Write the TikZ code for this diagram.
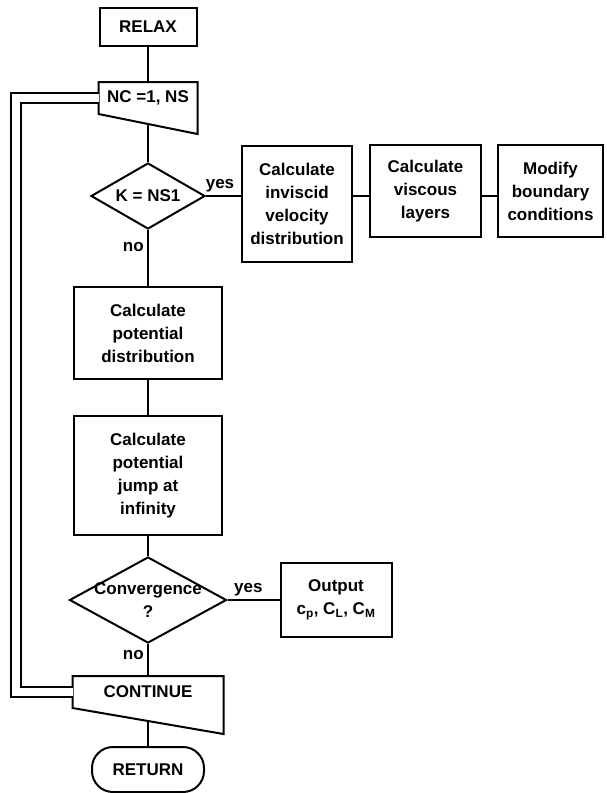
\documentclass[tikz,border=0pt]{standalone}
\usepackage{fontspec}
\setmainfont{Liberation Sans}
\usetikzlibrary{shapes.geometric, positioning}

\begin{document}
\begin{tikzpicture}[x=1pt, y=1pt, node distance=35pt, line width=2pt,
          font=\fontsize{17}{23}\selectfont\bfseries,
          box/.style={draw, rectangle, align=center, inner sep=2pt},
          decision/.style={draw, diamond, inner sep=-10pt, align=center},
          manual/.style={rectangle, inner sep=0pt, minimum height=30pt},
          terminal/.style={draw, rectangle, rounded corners=21pt, minimum width=112pt, minimum height=45pt},
          loopline/.style={double, double distance=8pt}]
        \useasboundingbox (0,0) rectangle (607,-793);
        % main column
        \node[box, minimum width=97pt, minimum height=38pt] (relax) at (148,-27) {RELAX};
        \node[manual, minimum width=97pt] (nc) [below=of relax] {NC =1, NS};
        \node[decision, aspect=1.73, minimum width=114pt, minimum height=66pt] (kdiam) [below=48pt of nc] {K = NS1};
        \node[box, minimum width=148pt, minimum height=92pt] (potdist) [below=56pt of kdiam]
          {Calculate\\potential\\distribution};
        \node[box, minimum width=148pt, minimum height=119pt] (jump) [below=of potdist]
          {Calculate\\potential\\jump at\\infinity};
        \node[decision, aspect=1.83, minimum width=157pt, minimum height=86pt] (conv) [below=20pt of jump]
          {Convergence\\?};
        \node[manual, minimum width=149pt] (cont) [below=32pt of conv] {CONTINUE};
        \node[terminal] (ret) [below=38pt of cont] {RETURN};
        % side branches
        \node[box, minimum width=110pt, minimum height=116pt] (inv) [right=35pt of kdiam, yshift=-8pt]
          {Calculate\\inviscid\\velocity\\distribution};
        \node[box, minimum width=111pt, minimum height=92pt] (visc) [right=16pt of inv, yshift=13pt]
          {Calculate\\viscous\\layers};
        \node[box, minimum width=105pt, minimum height=92pt] (modify) [right=15pt of visc]
          {Modify\\boundary\\conditions};
        \node[box, minimum width=111pt, minimum height=74pt] (out) [right=52pt of conv]
          {Output\\c\textsubscript{p}, C\textsubscript{L}, C\textsubscript{M}};
        % trapezoid outlines
        \draw (nc.north west) -- (nc.north east) -- ([yshift=-20pt]nc.south east)
          -- (nc.south west) -- cycle;
        \draw (cont.north west) -- (cont.north east) -- ([yshift=-26pt]cont.south east)
          -- (cont.south west) -- cycle;
        % connectors
        \draw (relax) -- (nc);
        \draw ([yshift=-10pt]nc.south) -- (kdiam);
        \draw (kdiam) -- node[pos=0.3, left] {no} (potdist);
        \draw (potdist) -- (jump);
        \draw (jump) -- (conv);
        \draw (conv) -- node[pos=0.35, left] {no} (cont);
        \draw ([yshift=-13pt]cont.south) -- (ret);
        \draw (kdiam.east) -- node[pos=0.4, above] {yes} (kdiam.east -| inv.west);
        \draw (inv.east |- kdiam) -- (visc.west |- kdiam);
        \draw (visc.east |- kdiam) -- (modify.west |- kdiam);
        \draw (conv.east) -- node[pos=0.4, above] {yes} (out);
        % loop back
        \coordinate (loopx) at (15.5,0);
        \draw[loopline] (cont.west) -- (cont.west -| loopx) -- (nc.west -| loopx) -- (nc.west);
\end{tikzpicture}
\end{document}
